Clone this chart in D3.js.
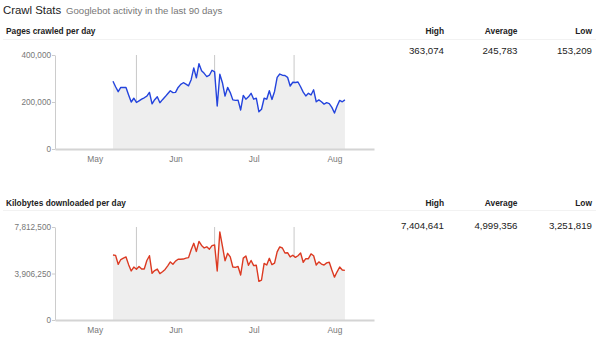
<!DOCTYPE html>
<html><head><meta charset="utf-8">
<script src="https://cdn.jsdelivr.net/npm/d3@7"></script>
<style>
html,body{margin:0;padding:0;background:#fff;}
svg{display:block;font-family:Arial,"Liberation Sans",Helvetica,sans-serif;}
</style></head>
<body><svg id="c" width="600" height="342"></svg>
<script>
// ---- data ----
const startDate = "2013-05-08";
const pagesCrawled = [288000,265000,244000,262000,262000,262000,230000,200000,216000,198000,
205000,212000,218000,225000,241000,192000,210000,222000,197000,210000,
222000,235000,248000,240000,241000,262000,275000,282000,276000,269000,
295000,345000,303000,363074,333000,322000,308000,314000,335000,328000,
183000,318000,282000,225000,262000,240000,209000,207000,208000,166000,
228000,212000,222000,237000,212000,216000,158000,169000,216000,212000,
248000,211000,245000,305000,319000,314000,313000,305000,268000,284000,
283000,285000,265000,242000,226000,237000,230000,252000,201000,209000,
201000,191000,197000,193000,177000,153209,183000,207000,201000,209000];
const kilobytesDownloaded = [5460000,5430000,4680000,5080000,5200000,5300000,4650000,4120000,4450000,4260000,
4500000,4280000,4280000,5000000,5400000,3920000,4150000,4280000,3900000,4050000,
4250000,4550000,4880000,4680000,4950000,5100000,5100000,5120000,5200000,5240000,
5900000,6440000,5760000,6600000,6260000,6050000,6150000,5950000,6250000,6300000,
4120000,7404641,6200000,4980000,5600000,5300000,4450000,4420000,4500000,3780000,
5200000,5380000,4600000,5000000,4570000,4600000,3251819,3360000,4760000,4620000,
5180000,4650000,4780000,5720000,6140000,6050000,5630000,5650000,5300000,5440000,
5260000,5400000,5630000,4850000,5150000,5150000,5550000,5400000,4620000,4880000,
4700000,4620000,4800000,4850000,4200000,3600000,4050000,4450000,4200000,4170000];
const monthTicks = ["2013-05-01","2013-06-01","2013-07-01","2013-08-01"];
const markerDates = ["2013-05-17","2013-06-16","2013-07-16T12:00"];
const pagesTicks = [0,200000,400000];
const kbTicks = [0,3906250,7812500];
const statLabels = ["High","Average","Low"];
const pagesStats = ["363,074","245,783","153,209"];
const kbStats = ["7,404,641","4,999,356","3,251,819"];

// ---- drawing ----
const svg = d3.select("#c");
const parse = s => new Date(s.length > 10 ? s : s + "T00:00");
const days = pagesCrawled.map((_, i) => d3.timeDay.offset(parse(startDate), i));

const x = d3.scaleTime()
  .domain([new Date(2013,3,15,18), new Date(2013,7,16,4)])
  .range([55, 374]);

svg.append("text").attr("x",3).attr("y",14).attr("font-size",11.4).attr("fill","#222").text("Crawl Stats");
svg.append("text").attr("x",66).attr("y",14).attr("font-size",9.6).attr("fill","#777").text("Googlebot activity in the last 90 days");

function panel(o){
  const g = svg.append("g");
  g.append("text").attr("x",6).attr("y",o.titleY).attr("font-size",8.3).attr("font-weight","bold").attr("fill","#222").text(o.title);
  g.append("line").attr("x1",3).attr("x2",596).attr("y1",o.sepY).attr("y2",o.sepY).attr("stroke","#f2f2f2");
  const cols = [444,517.5,592];
  statLabels.forEach((s,i)=>{
    g.append("text").attr("x",cols[i]).attr("y",o.titleY).attr("text-anchor","end").attr("font-size",8.4).attr("font-weight","bold").attr("fill","#222").text(s);
    g.append("text").attr("x",cols[i]).attr("y",o.valY).attr("text-anchor","end").attr("font-size",9.7).attr("fill","#222").text(o.stats[i]);
  });
  const y = d3.scaleLinear().domain([0, o.ticks[o.ticks.length-1]]).range([o.y0, o.y1]);
  // markers
  markerDates.forEach(d=>{
    g.append("line").attr("x1",x(parse(d))).attr("x2",x(parse(d))).attr("y1",o.y1).attr("y2",o.y0).attr("stroke","#c8c8c8").attr("stroke-width",1);
  });
  const pts = o.values.map((v,i)=>({d:days[i],v}));
  g.append("path").datum(pts).attr("fill","#eeeeee")
    .attr("d", d3.area().x(p=>x(p.d)).y0(o.y0).y1(p=>y(p.v)));
  g.append("path").datum(pts).attr("fill","none").attr("stroke",o.color).attr("stroke-width",1.4).attr("stroke-linejoin","round")
    .attr("d", d3.line().x(p=>x(p.d)).y(p=>y(p.v)));
  // y axis
  const ya = g.append("g").attr("transform","translate(55,0)")
    .call(d3.axisLeft(y).tickValues(o.ticks).tickFormat(d3.format(",")).tickSize(3).tickSizeOuter(0).tickPadding(1));
  ya.select(".domain").attr("stroke","#cccccc");
  ya.selectAll(".tick line").attr("stroke","#cccccc");
  ya.selectAll("text").attr("fill","#777").attr("font-size",8.2).attr("font-family","Arial, Liberation Sans, sans-serif");
  // x axis
  const xa = g.append("g").attr("transform",`translate(0,${o.y0})`)
    .call(d3.axisBottom(x).tickValues(monthTicks.map(parse)).tickFormat(d3.timeFormat("%b")).tickSize(0).tickSizeOuter(0).tickPadding(7));
  xa.select(".domain").attr("stroke","#d4d4d4").attr("stroke-width",2);
  xa.selectAll("text").attr("fill","#777").attr("font-size",8.4).attr("font-family","Arial, Liberation Sans, sans-serif");
}

panel({title:"Pages crawled per day", titleY:34.3, sepY:39.5, valY:54, y0:149, y1:55,
  ticks:pagesTicks, values:pagesCrawled, stats:pagesStats, color:"#2444dd"});
panel({title:"Kilobytes downloaded per day", titleY:205.5, sepY:210.5, valY:229, y0:320, y1:227,
  ticks:kbTicks, values:kilobytesDownloaded, stats:kbStats, color:"#dc3a22"});
</script></body></html>
